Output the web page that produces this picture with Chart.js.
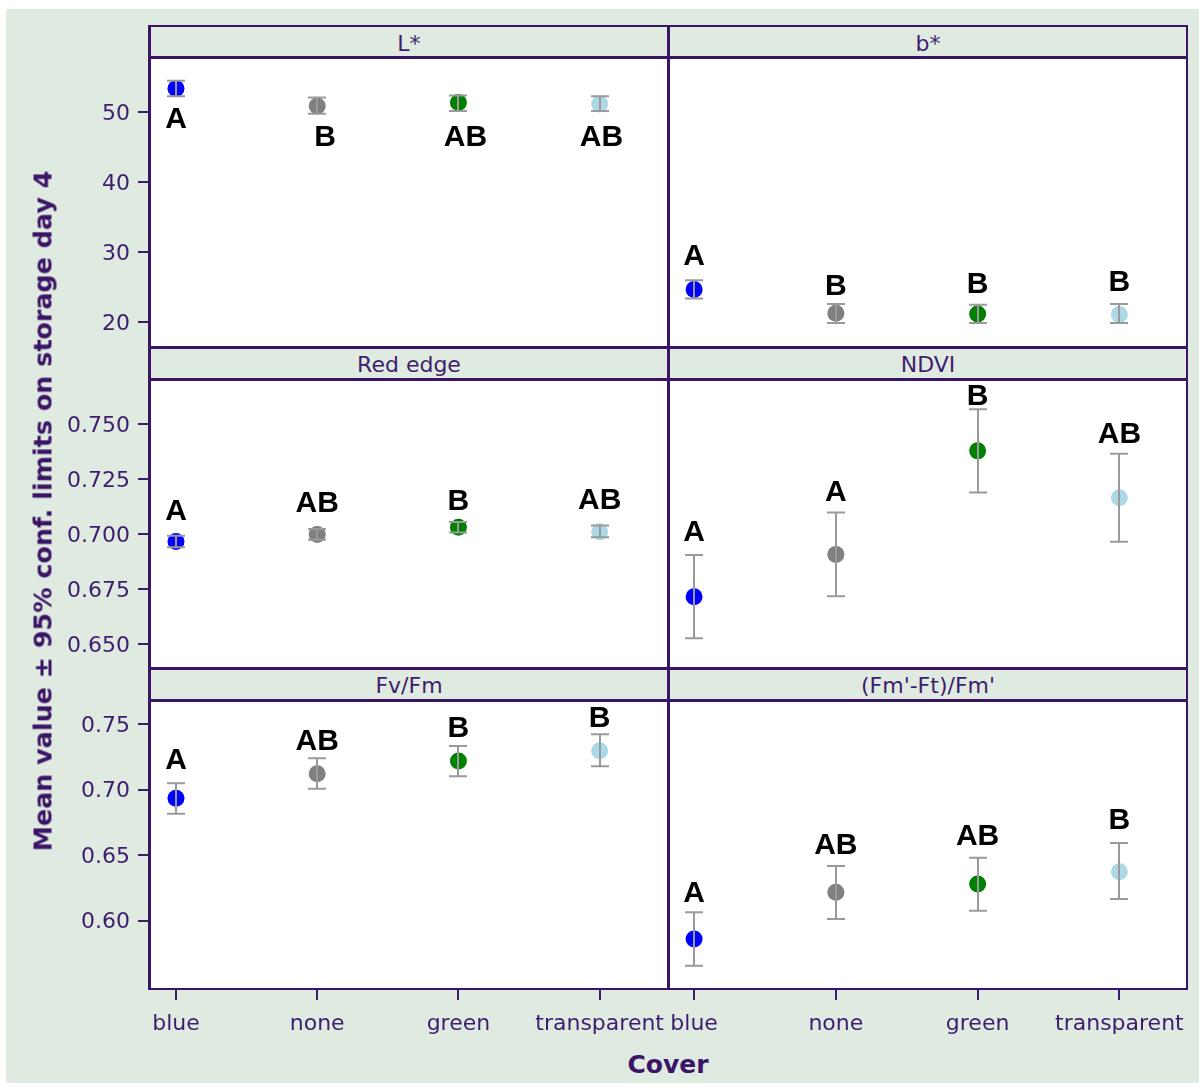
<!DOCTYPE html>
<html>
<head>
<meta charset="utf-8">
<script src="https://cdn.jsdelivr.net/npm/chart.js@4.4.1/dist/chart.umd.min.js"></script>
<style>
  html, body { margin:0; padding:0; background:#ffffff; }
  #page { position:relative; width:1199px; height:1086px; overflow:hidden; background:#ffffff; }
  #bg { position:absolute; left:6px; top:9px; width:1193px; height:1074px; background:#dfeae1; }
  .plot { position:absolute; background:#ffffff; }
  .ln { position:absolute; background:#3b1466; }
  .strip { position:absolute; height:22px; line-height:22px; font-family:"DejaVu Sans", sans-serif; font-size:22px; color:#3f1d6e; text-align:center; white-space:nowrap; }
  canvas { position:absolute; }
  .axt { position:absolute; font-family:"DejaVu Sans", sans-serif; font-weight:bold; font-size:25px; line-height:25px; color:#3b1466; white-space:nowrap; }
</style>
</head>
<body>
<div id="page">
  <div id="bg"></div>
  <div class="plot" style="left:150px;top:57px;width:1038px;height:290px"></div>
  <div class="plot" style="left:150px;top:379px;width:1038px;height:289px"></div>
  <div class="plot" style="left:150px;top:701px;width:1038px;height:287px"></div>
  <div id="charts"></div>
  <div id="strips"></div>
  <!-- frame lines -->
  <div class="ln" style="left:148px;top:25px;width:1040px;height:2px"></div>
  <div class="ln" style="left:148px;top:56px;width:1040px;height:3px"></div>
  <div class="ln" style="left:148px;top:346px;width:1040px;height:3px"></div>
  <div class="ln" style="left:148px;top:378px;width:1040px;height:3px"></div>
  <div class="ln" style="left:148px;top:667px;width:1040px;height:3px"></div>
  <div class="ln" style="left:148px;top:699px;width:1040px;height:3px"></div>
  <div class="ln" style="left:148px;top:988px;width:1040px;height:2px"></div>
  <div class="ln" style="left:148px;top:25px;width:3px;height:965px"></div>
  <div class="ln" style="left:667px;top:25px;width:3px;height:965px"></div>
  <div class="ln" style="left:1186px;top:25px;width:2px;height:965px"></div>
  <div class="axt" id="ytitle" style="left:43px;top:511px;font-size:25.4px;transform:translate(-50%,-50%) rotate(-90deg)"></div>
  <div class="axt" id="xtitle" style="left:668px;top:1052px;transform:translateX(-50%)"></div>
</div>
<script>
// ---------------- data ----------------
const covers = ['blue', 'none', 'green', 'transparent'];
const panelTitles = ['L*', 'b*', 'Red edge', 'NDVI', 'Fv/Fm', "(Fm'-Ft)/Fm'"];
const xTitle = 'Cover';
const yTitle = 'Mean value \u00b1 95% conf. limits on storage day 4';

// L*
const lMean = [53.4, 50.9, 51.4, 51.2];
const lLow = [52.3, 49.8, 50.2, 50.2];
const lHigh = [54.5, 52.1, 52.4, 52.3];
const lLetters = ['A', 'B', 'AB', 'AB'];
const lLetterY = [48.9, 46.4, 46.4, 46.4];
const lLetterX = [0, 1.055, 2.05, 3.013];

// b*
const bMean = [24.7, 21.3, 21.2, 21.1];
const bLow = [23.4, 19.9, 19.9, 19.9];
const bHigh = [26.0, 22.6, 22.5, 22.6];
const bLetters = ['A', 'B', 'B', 'B'];
const bLetterY = [29.3, 25.1, 25.3, 25.7];

// Red edge
const reMean = [0.6967, 0.6999, 0.7031, 0.7011];
const reLow = [0.6940, 0.6975, 0.7007, 0.6986];
const reHigh = [0.6993, 0.7023, 0.7055, 0.7039];
const reLetters = ['A', 'AB', 'B', 'AB'];
const reLetterY = [0.7102, 0.7138, 0.7149, 0.7150];

// NDVI
const ndviMean = [0.6715, 0.6908, 0.7379, 0.7166];
const ndviLow = [0.6526, 0.6718, 0.7190, 0.6966];
const ndviHigh = [0.6905, 0.7098, 0.7568, 0.7366];
const ndviLetters = ['A', 'A', 'B', 'AB'];
const ndviLetterY = [0.7005, 0.7188, 0.7626, 0.7452];

// Fv/Fm
const fvMean = [0.6935, 0.7123, 0.7220, 0.7298];
const fvLow = [0.6817, 0.7008, 0.7103, 0.7179];
const fvHigh = [0.7049, 0.7240, 0.7334, 0.7424];
const fvLetters = ['A', 'AB', 'B', 'B'];
const fvLetterY = [0.7221, 0.7369, 0.7466, 0.7542];

// (Fm'-Ft)/Fm'
const fmMean = [0.5860, 0.6217, 0.6280, 0.6374];
const fmLow = [0.5656, 0.6013, 0.6076, 0.6166];
const fmHigh = [0.6064, 0.6418, 0.6481, 0.6593];
const fmLetters = ['A', 'AB', 'AB', 'B'];
const fmLetterY = [0.6208, 0.6569, 0.6645, 0.6762];

// axis ticks and ranges per row
const row1Ticks = [20, 30, 40, 50];
const row1TickLabels = ['20', '30', '40', '50'];
const row2Ticks = [0.650, 0.675, 0.700, 0.725, 0.750];
const row2TickLabels = ['0.650', '0.675', '0.700', '0.725', '0.750'];
const row3Ticks = [0.60, 0.65, 0.70, 0.75];
const row3TickLabels = ['0.60', '0.65', '0.70', '0.75'];
const rowMin = [16.47, 0.6391, 0.5486];
const rowMax = [57.9, 0.7706, 0.7678];
const xMin = -0.184;
const xMax = 3.484;

// ---------------- styles / layout ----------------
const coverColors = ['#0000ff', '#808080', '#008000', '#add8e6'];
const purple = '#3f1d6e';
const errColor = '#9a9a9a';
const rowTop = [57, 379, 701];
const rowBottom = [347, 668, 988];
const colLeft = [150, 668];
const colRight = [668, 1188];
const Y_AXIS_W = 110;
const X_AXIS_H = 57;

document.getElementById('ytitle').textContent = yTitle;
document.getElementById('xtitle').textContent = xTitle;

const panels = [
  { mean: lMean, low: lLow, high: lHigh, letters: lLetters, letterY: lLetterY, letterX: lLetterX },
  { mean: bMean, low: bLow, high: bHigh, letters: bLetters, letterY: bLetterY },
  { mean: reMean, low: reLow, high: reHigh, letters: reLetters, letterY: reLetterY },
  { mean: ndviMean, low: ndviLow, high: ndviHigh, letters: ndviLetters, letterY: ndviLetterY },
  { mean: fvMean, low: fvLow, high: fvHigh, letters: fvLetters, letterY: fvLetterY },
  { mean: fmMean, low: fmLow, high: fmHigh, letters: fmLetters, letterY: fmLetterY }
];
const rowTicks = [row1Ticks, row2Ticks, row3Ticks];
const rowTickLabels = [row1TickLabels, row2TickLabels, row3TickLabels];
const stripTops = [26, 347, 668];

Chart.defaults.font.family = '"DejaVu Sans", sans-serif';

const decor = {
  id: 'decor',
  afterDatasetsDraw(chart) {
    const ds = chart.data.datasets[0];
    const xs = chart.scales.x, ys = chart.scales.y, ctx = chart.ctx;
    ctx.save();
    ctx.strokeStyle = errColor;
    ctx.lineWidth = 2;
    ds.errLow.forEach((lo, i) => {
      const x = Math.round(xs.getPixelForValue(i));
      const yl = ys.getPixelForValue(lo);
      const yh = ys.getPixelForValue(ds.errHigh[i]);
      ctx.beginPath();
      ctx.moveTo(x, yl); ctx.lineTo(x, yh);
      ctx.moveTo(x - 9, yl); ctx.lineTo(x + 9, yl);
      ctx.moveTo(x - 9, yh); ctx.lineTo(x + 9, yh);
      ctx.stroke();
    });
    ctx.fillStyle = '#000000';
    ctx.font = 'bold 30px "Liberation Sans", Arial, sans-serif';
    ctx.textAlign = 'center';
    ctx.textBaseline = 'middle';
    ds.letters.forEach((t, i) => {
      const lx = ds.letterX ? ds.letterX[i] : i;
      ctx.fillText(t, xs.getPixelForValue(lx), ys.getPixelForValue(ds.letterY[i]));
    });
    ctx.restore();
  }
};

const chartsDiv = document.getElementById('charts');
const stripsDiv = document.getElementById('strips');

panels.forEach((p, idx) => {
  const col = idx % 2, row = Math.floor(idx / 2);
  const isLeft = col === 0, isBottom = row === 2;
  const yW = isLeft ? Y_AXIS_W : 0;
  const xH = isBottom ? X_AXIS_H : 0;
  const w = colRight[col] - colLeft[col] + yW;
  const h = rowBottom[row] - rowTop[row] + xH;

  // strip header
  const s = document.createElement('div');
  s.className = 'strip';
  s.style.left = colLeft[col] + 'px';
  s.style.width = (colRight[col] - colLeft[col]) + 'px';
  s.style.top = (stripTops[row] + 7) + 'px';
  s.textContent = panelTitles[idx];
  stripsDiv.appendChild(s);

  const cv = document.createElement('canvas');
  cv.width = w; cv.height = h;
  cv.style.left = (colLeft[col] - yW) + 'px';
  cv.style.top = rowTop[row] + 'px';
  cv.style.width = w + 'px';
  cv.style.height = h + 'px';
  chartsDiv.appendChild(cv);

  new Chart(cv, {
    type: 'scatter',
    data: {
      datasets: [{
        data: covers.map((c, i) => ({ x: i, y: p.mean[i] })),
        pointBackgroundColor: coverColors,
        pointBorderWidth: 0,
        pointRadius: 8.5,
        pointHoverRadius: 8.5,
        clip: false,
        errLow: p.low,
        errHigh: p.high,
        letters: p.letters,
        letterY: p.letterY,
        letterX: p.letterX
      }]
    },
    options: {
      responsive: false,
      animation: false,
      events: [],
      devicePixelRatio: 1,
      layout: { padding: 0, autoPadding: false },
      plugins: { legend: { display: false }, tooltip: { enabled: false } },
      scales: {
        x: {
          type: 'linear', min: xMin, max: xMax, display: isBottom, position: 'bottom',
          afterBuildTicks: sc => { sc.ticks = covers.map((c, i) => ({ value: i })); },
          afterFit: sc => {
            if (isBottom) sc.height = X_AXIS_H;
            sc.paddingLeft = 0; sc.paddingRight = 0; sc.paddingTop = 0; sc.paddingBottom = 0;
          },
          grid: { display: true, drawOnChartArea: false, drawTicks: true, tickLength: 12, color: purple, lineWidth: 2 },
          border: { display: false },
          ticks: {
            padding: 11, color: purple, font: { size: 22 },
            maxRotation: 0, minRotation: 0, autoSkip: false,
            callback: (v, i) => covers[i]
          }
        },
        y: {
          type: 'linear', min: rowMin[row], max: rowMax[row], display: isLeft, position: 'left',
          afterBuildTicks: sc => { sc.ticks = rowTicks[row].map(v => ({ value: v })); },
          afterFit: sc => {
            if (isLeft) sc.width = Y_AXIS_W;
            sc.paddingLeft = 0; sc.paddingRight = 0; sc.paddingTop = 0; sc.paddingBottom = 0;
          },
          grid: { display: true, drawOnChartArea: false, drawTicks: true, tickLength: 12, color: purple, lineWidth: 2 },
          border: { display: false },
          ticks: {
            padding: 8, labelOffset: 2, color: purple, font: { size: 22 },
            autoSkip: false,
            callback: (v, i) => rowTickLabels[row][i]
          }
        }
      }
    },
    plugins: [decor]
  });
});
</script>
</body>
</html>
